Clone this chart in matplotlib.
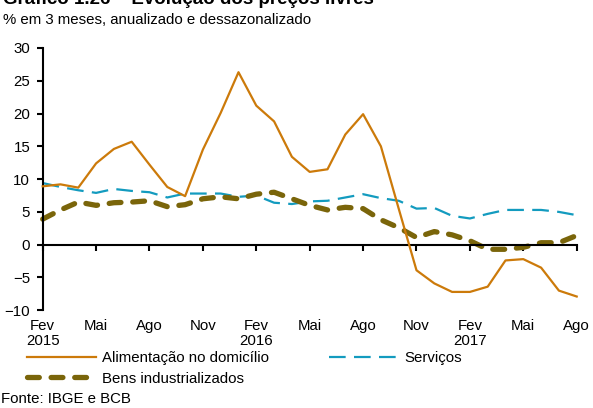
import matplotlib
matplotlib.use("Agg")
import matplotlib.pyplot as plt

plt.rcParams['font.family'] = ['Liberation Sans', 'DejaVu Sans']
plt.rcParams['lines.scale_dashes'] = False

# --- data (monthly Fev/2015 .. Ago/2017) ---
months = list(range(31))
alimentacao = [8.9, 9.2, 8.7, 12.4, 14.6, 15.7, 12.2, 8.8, 7.4, 14.5,
               20.1, 26.3, 21.2, 18.8, 13.4, 11.1, 11.5, 16.8, 19.9, 15.0,
               5.5, -3.9, -5.9, -7.2, -7.2, -6.4, -2.4, -2.2, -3.5, -7.0, -7.9]
servicos = [9.4, 8.8, 8.3, 7.9, 8.5, 8.2, 8.0, 7.2, 7.8, 7.8,
            7.8, 7.3, 7.5, 6.4, 6.2, 6.6, 6.7, 7.2, 7.7, 7.1,
            6.7, 5.5, 5.6, 4.4, 4.0, 4.7, 5.3, 5.3, 5.3, 5.0, 4.5]
bens = [3.9, 5.3, 6.5, 6.0, 6.4, 6.5, 6.7, 5.8, 6.1, 7.0,
        7.3, 7.0, 7.7, 8.0, 7.0, 6.0, 5.3, 5.7, 5.5, 3.8,
        2.6, 1.1, 2.0, 1.5, 0.6, -0.7, -0.7, -0.4, 0.3, 0.3, 1.4]

tick_pos = [0, 3, 6, 9, 12, 15, 18, 21, 24, 27, 30]
tick_labels = ["Fev\n2015", "Mai", "Ago", "Nov", "Fev\n2016", "Mai", "Ago",
               "Nov", "Fev\n2017", "Mai", "Ago"]

C_ALIM = "#CC7A0A"
C_SERV = "#139BBF"
C_BENS = "#7A650A"
FS = 10.8

fig = plt.figure(figsize=(5.93, 4.08), dpi=100)
ax = fig.add_axes([0.072, 0.2395, 0.9005, 0.643])

l_alim, = ax.plot(months, alimentacao, color=C_ALIM, lw=1.6, clip_on=False, zorder=3,
                  label="Alimentação no domicílio")
l_serv, = ax.plot(months, servicos, color=C_SERV, lw=1.6, clip_on=False, zorder=2,
                  label="Serviços")
l_serv.set_dashes([12, 6])
l_bens, = ax.plot(months, bens, color=C_BENS, lw=3.8, clip_on=False, zorder=2,
                  solid_capstyle="round", dash_capstyle="round",
                  label="Bens industrializados")
l_bens.set_dashes([8.5, 8.5])

ax.set_xlim(0, 30)
ax.set_ylim(-10, 30)
ax.set_yticks(range(-10, 31, 5))
ax.tick_params(axis="y", direction="out", length=4, width=1.5, labelsize=FS, pad=5)

# x axis sits on zero line
for s in ["top", "right"]:
    ax.spines[s].set_visible(False)
ax.spines["left"].set_linewidth(1.5)
ax.spines["bottom"].set_position(("data", 0))
ax.spines["bottom"].set_linewidth(1.5)
ax.set_xticks(tick_pos)
ax.tick_params(axis="x", direction="out", length=4, width=1.5, labelbottom=False)

for p, lab in zip(tick_pos, tick_labels):
    ax.text(p, -0.035, lab, transform=ax.get_xaxis_transform(), ha="center", va="top",
            fontsize=FS, linespacing=1.05, multialignment="center")

leg = fig.legend([l_alim, l_bens, l_serv],
                 ["Alimentação no domicílio", "Bens industrializados", "Serviços"],
                 ncol=2, loc="upper left", bbox_to_anchor=(27 / 593, 0.14),
                 frameon=False, fontsize=FS, handlelength=4.6, handletextpad=0.4,
                 columnspacing=4.0, labelspacing=0.45, borderpad=0, borderaxespad=0)

fig.text(3 / 593, 1 - 4 / 408, "Gráfico 1.26 – Evolução dos preços livres",
         fontsize=13.5, fontweight="bold", va="baseline", ha="left")
fig.text(3 / 593, 1 - 23.5 / 408, "% em 3 meses, anualizado e dessazonalizado",
         fontsize=FS, va="baseline", ha="left")
fig.text(1 / 593, 1 - 403 / 408, "Fonte: IBGE e BCB", fontsize=FS, va="baseline", ha="left")

plt.savefig("out.png", dpi=100)
